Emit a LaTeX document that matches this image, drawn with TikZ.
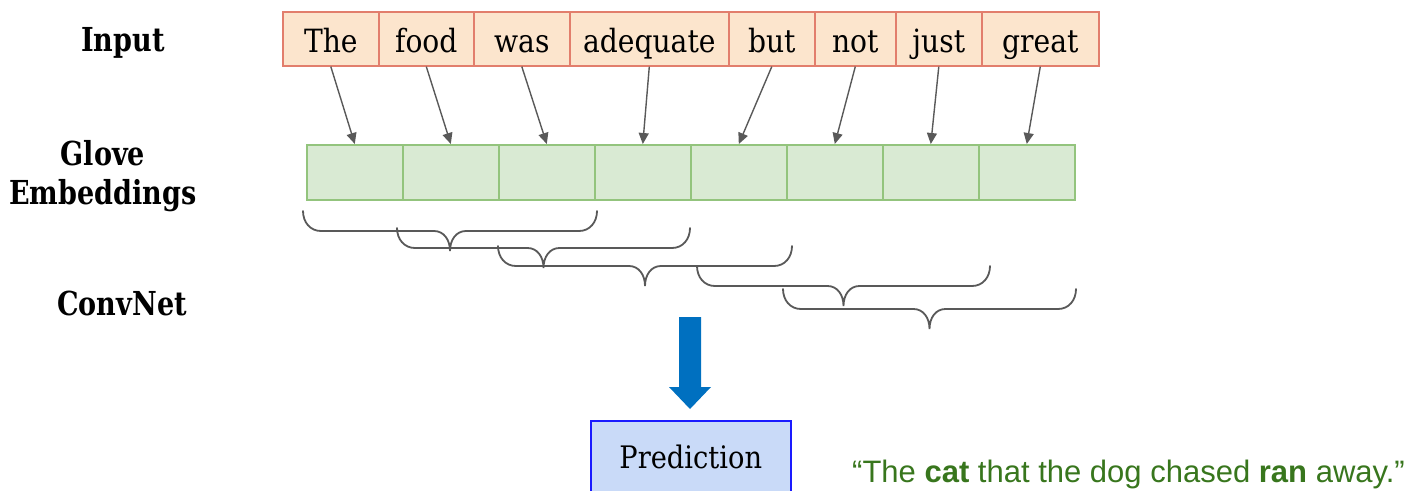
\documentclass[tikz,border=0pt]{standalone}
\usepackage{fontspec}
\setmainfont{DejaVu Serif}
\newfontfamily\wordfont{DejaVu Serif}[FakeStretch=0.88]
\newfontfamily\labelfont{DejaVu Serif}[FakeStretch=0.82]
\newfontfamily\quotefont{Liberation Sans}
\usetikzlibrary{arrows.meta}

\definecolor{wordfill}{HTML}{FCE5CD}
\definecolor{wordline}{HTML}{E27E6C}
\definecolor{embfill}{HTML}{D9EAD3}
\definecolor{embline}{HTML}{93C47D}
\definecolor{connline}{HTML}{595959}
\definecolor{predfill}{HTML}{C9DAF8}
\definecolor{predline}{HTML}{1A1AFF}
\definecolor{bigarrow}{HTML}{0070C0}
\definecolor{quotegreen}{HTML}{38761D}

\begin{document}
\begin{tikzpicture}[x=1pt,y=-1pt,
  wordbox/.style={draw=wordline, fill=wordfill, line width=1.6pt, inner sep=0pt,
    minimum height=54pt, anchor=north west,
    font=\wordfont\fontsize{32}{38}\selectfont, text height=27.4pt, text depth=0pt},
  embbox/.style={draw=embline, fill=embfill, line width=1.6pt, inner sep=0pt,
    minimum width=96pt, minimum height=55pt, anchor=north west},
  conn/.style={draw=connline, line width=1.4pt, -{Triangle[length=11pt,width=10pt]}},
  brace/.style={draw=connline, line width=1.8pt, line cap=round},
  lbl/.style={font=\labelfont\bfseries\fontsize{33}{39}\selectfont, inner sep=0pt},
  predbox/.style={draw=predline, fill=predfill, line width=1.5pt, inner sep=0pt,
    minimum width=200pt, minimum height=96pt, anchor=north west,
    font=\wordfont\fontsize{31}{37}\selectfont, text height=5pt, text depth=5pt},
  quote/.style={font=\quotefont\fontsize{31}{37}\selectfont, text=quotegreen, inner sep=0pt}
]
\useasboundingbox (0,0) rectangle (1424,490);
\clip (0,0) rectangle (1424,490);

% row labels
\node[lbl, anchor=base] (inlbl) at (123,51) {Input};
\node[lbl, anchor=base, align=center] (emblbl) at (103,204) {Glove\\Embeddings};
\node[lbl, anchor=base] (cnnlbl) at (122,315) {ConvNet};

% input tokens
\foreach \xl/\xr/\wtxt [count=\i] in {282/378/The, 378/473/food, 473/569/was,
    569/728/adequate, 728/814/but, 814/895/not, 895/981/just, 981/1098/great}
  \node[wordbox, minimum width={\xr-\xl}] (w\i) at (\xl,11) {\wtxt};

% embedding cells
\foreach \i in {1,...,8}
  \node[embbox] (e\i) at ({306+96*(\i-1)},144) {};

% token -> embedding
\foreach \i in {1,...,8}
  \draw[conn] (w\i.south) -- (e\i.north);

% convolution windows drawn as braces
\foreach \lx/\rx/\ty in {303/597/211, 397/690/228, 498/792/246, 697/990/266, 783/1076/289} {
  \pgfmathsetmacro\cx{(\lx+\rx)/2}
  \pgfmathsetmacro\my{\ty+20}
  \draw[brace] (\lx,\ty) .. controls (\lx,\ty+11) and (\lx+7,\my) .. (\lx+18,\my)
    -- (\cx-16,\my) .. controls (\cx-6,\my) and (\cx,\my+9) .. (\cx,\my+20)
    .. controls (\cx,\my+9) and (\cx+6,\my) .. (\cx+16,\my)
    -- (\rx-18,\my) .. controls (\rx-7,\my) and (\rx,\ty+11) .. (\rx,\ty);
}

% output
\node[predbox] (pred) at (590,420) {Prediction};
\fill[bigarrow] (679,317) -- (701,317) -- (701,387) -- (711,387) -- (690,409)
  -- (669,387) -- (679,387) -- cycle;

\node[quote, anchor=base west] (q) at (852,482)
  {“The \textbf{cat} that the dog chased \textbf{ran} away.”};
\end{tikzpicture}
\end{document}
